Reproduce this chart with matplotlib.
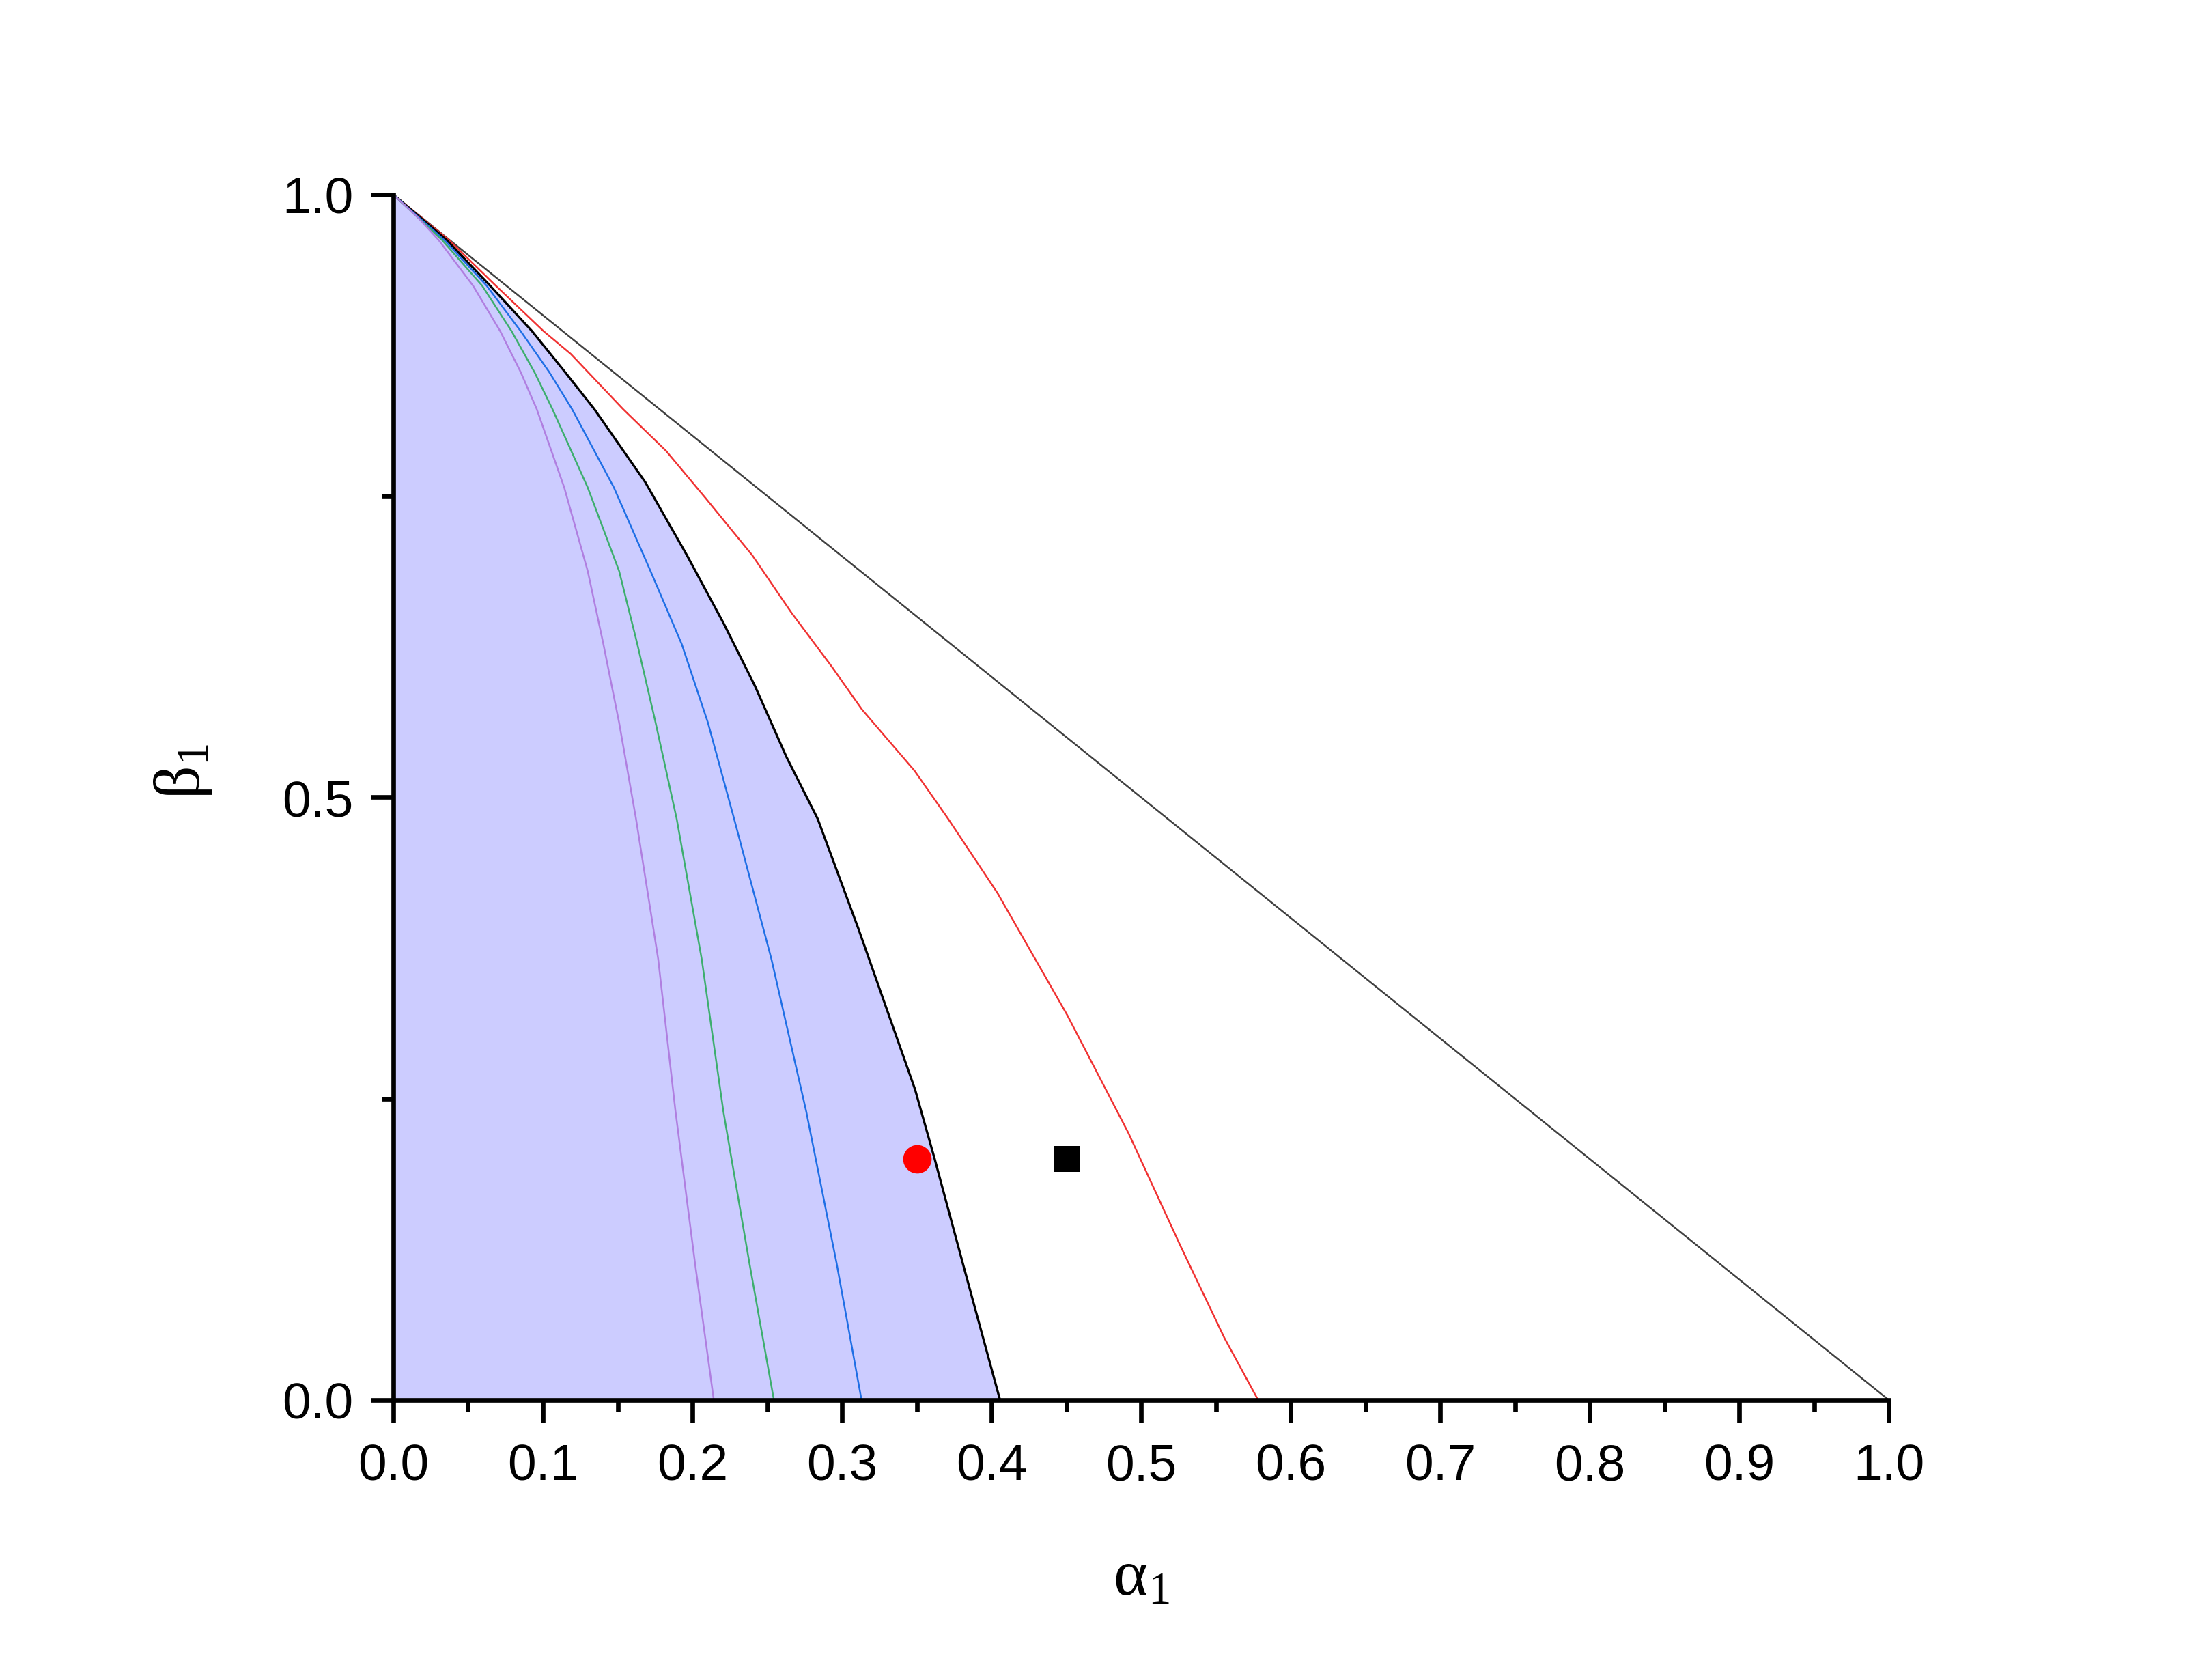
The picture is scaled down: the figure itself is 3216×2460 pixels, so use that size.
import matplotlib
matplotlib.use("Agg")
import matplotlib.pyplot as plt
from matplotlib.ticker import MultipleLocator

plt.rcParams['font.family'] = ['Liberation Sans', 'DejaVu Sans']

# curves: (alpha_1, beta_1) points from top to bottom
black_a = [0, 0.0358, 0.0647, 0.0928, 0.1149, 0.1344, 0.1685, 0.1964, 0.2209,
           0.2419, 0.2628, 0.2838, 0.311, 0.3489, 0.362, 0.3809, 0.4057]
black_b = [1, 0.9622, 0.9245, 0.8867, 0.8527, 0.8221, 0.7614, 0.7007, 0.6443,
           0.5922, 0.5337, 0.4821, 0.391, 0.2576, 0.200, 0.113, 0]

red_a = [0, 0.0373, 0.0685, 0.1005, 0.1187, 0.1536, 0.1824, 0.2087, 0.2401,
         0.2663, 0.2925, 0.3135, 0.3485, 0.371, 0.4042, 0.4508, 0.4916, 0.5265,
         0.5557, 0.5783]
red_b = [1, 0.9622, 0.9245, 0.8867, 0.8678, 0.8221, 0.7874, 0.7484, 0.7007,
         0.653, 0.6096, 0.5727, 0.5221, 0.4822, 0.4202, 0.319, 0.2214, 0.1275,
         0.0516, 0]

blue_a = [0, 0.0342, 0.0624, 0.0852, 0.1043, 0.1195, 0.1475, 0.172, 0.1929,
          0.2104, 0.2279, 0.2528, 0.2761, 0.2965, 0.3131]
blue_b = [1, 0.9622, 0.9245, 0.8867, 0.8527, 0.8221, 0.757, 0.6877, 0.627,
          0.5619, 0.4821, 0.366, 0.2395, 0.113, 0]

green_a = [0, 0.0327, 0.0594, 0.0791, 0.0944, 0.1064, 0.130, 0.151, 0.1632,
           0.1754, 0.1895, 0.2062, 0.2207, 0.2382, 0.2545]
green_b = [1, 0.9622, 0.9245, 0.8867, 0.8527, 0.8221, 0.757, 0.6877, 0.627,
           0.5619, 0.4821, 0.366, 0.2395, 0.113, 0]

purple_a = [0, 0.0164, 0.0304, 0.0533, 0.0715, 0.0852, 0.0959, 0.1143, 0.130,
            0.1405, 0.151, 0.1623, 0.1771, 0.1887, 0.2018, 0.2143]
purple_b = [1, 0.9811, 0.9622, 0.9245, 0.8867, 0.8527, 0.8221, 0.757, 0.6877,
            0.627, 0.5619, 0.4821, 0.366, 0.2395, 0.113, 0]

# straight line alpha + beta = 1
diag_a = [0, 1]
diag_b = [1, 0]

# the two marked points
dot_a, dot_b = [0.35], [0.2]
square_a, square_b = [0.45], [0.2]

fig = plt.figure(figsize=(10.72, 8.2033), dpi=300)
ax = fig.add_axes([0.1791, 0.1666, 0.6810, 0.7172])

# shaded region under the black curve
ax.fill_betweenx(black_b, 0, black_a, color='#CCCCFF', lw=0, zorder=1)

ax.plot(diag_a, diag_b, color='#404040', lw=0.6, zorder=2)
ax.plot(red_a, red_b, color='#F03232', lw=0.6, zorder=3)
ax.plot(black_a, black_b, color='black', lw=0.8, zorder=4)
ax.plot(blue_a, blue_b, color='#1F6FE5', lw=0.6, zorder=4)
ax.plot(green_a, green_b, color='#3DAE6E', lw=0.6, zorder=4)
ax.plot(purple_a, purple_b, color='#B07FE0', lw=0.6, zorder=4)

ax.plot(dot_a, dot_b, 'o', ms=10, color='#FF0000', mec='none', zorder=5)
ax.plot(square_a, square_b, 's', ms=9, color='black', mec='none', zorder=5)

ax.set_xlim(0, 1)
ax.set_ylim(0, 1)

ax.spines['top'].set_visible(False)
ax.spines['right'].set_visible(False)
for s in ['left', 'bottom']:
    ax.spines[s].set_linewidth(1.6)
    ax.spines[s].set_zorder(6)

ax.xaxis.set_major_locator(MultipleLocator(0.1))
ax.xaxis.set_minor_locator(MultipleLocator(0.05))
ax.yaxis.set_major_locator(MultipleLocator(0.5))
ax.yaxis.set_minor_locator(MultipleLocator(0.25))
ax.xaxis.set_major_formatter(plt.FormatStrFormatter('%.1f'))
ax.yaxis.set_major_formatter(plt.FormatStrFormatter('%.1f'))

ax.tick_params(which='major', direction='out', length=8, width=1.6, labelsize=18)
ax.tick_params(which='minor', direction='out', length=4, width=1.6)
ax.tick_params(axis='x', which='major', pad=7)
ax.tick_params(axis='y', which='major', pad=6)

# axis titles, upright Times-like Greek with subscript
ax.text(0.5, -0.148, r'$\mathregular{α_1}$', transform=ax.transAxes, fontsize=23,
        family=['Liberation Serif', 'DejaVu Serif'], ha='center', va='center')
ax.text(-0.1406, 0.522, r'$\mathregular{β_1}$', transform=ax.transAxes, fontsize=23,
        family=['Liberation Serif', 'DejaVu Serif'], rotation=90,
        ha='center', va='center')

fig.savefig('out.png', dpi=300)
